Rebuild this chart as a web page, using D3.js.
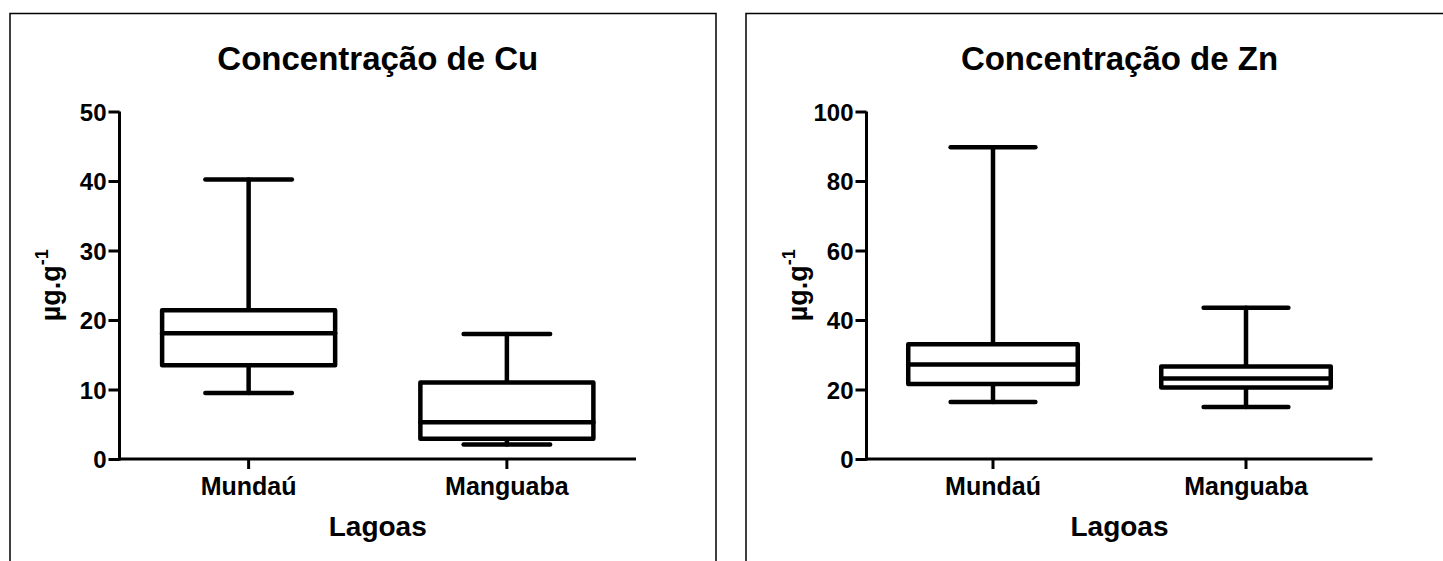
<!DOCTYPE html>
<html>
<head>
<meta charset="utf-8">
<script src="https://cdn.jsdelivr.net/npm/d3@7"></script>
<style>
  html, body { margin: 0; padding: 0; background: #fff; }
  svg { display: block; }
  text { font-family: "Liberation Sans", Arial, sans-serif; font-weight: bold; fill: #000; }
</style>
</head>
<body>
<script>
// data
const groups = ["Mundaú", "Manguaba"];

const cuMin = [9.5, 2.1];
const cuQ1 = [13.5, 2.9];
const cuMedian = [18.1, 5.3];
const cuQ3 = [21.4, 11.0];
const cuMax = [40.2, 18.0];
const cuTicks = [0, 10, 20, 30, 40, 50];

const znMin = [16.4, 15.0];
const znQ1 = [21.6, 20.6];
const znMedian = [27.2, 23.2];
const znQ3 = [33.0, 26.6];
const znMax = [89.7, 43.5];
const znTicks = [0, 20, 40, 60, 80, 100];

// layout
const width = 1443;
const height = 561;
const plotTop = 111.5;
const plotBottom = 459;

const svg = d3.select("body").append("svg")
  .attr("width", width)
  .attr("height", height);

function drawPanel(opt) {
  const g = svg.append("g");

  // frame
  g.append("rect")
    .attr("x", opt.frame[0])
    .attr("y", 13.5)
    .attr("width", opt.frame[1] - opt.frame[0])
    .attr("height", 600)
    .attr("fill", "none")
    .attr("stroke", "#000")
    .attr("stroke-width", 1.5);

  const x = d3.scaleBand().domain(groups).range([opt.x0, opt.x1]);
  const y = d3.scaleLinear().domain([0, opt.ticks[opt.ticks.length - 1]]).range([plotBottom, plotTop]);

  const rows = groups.map((k, i) => ({
    name: k, min: opt.min[i], q1: opt.q1[i], med: opt.med[i], q3: opt.q3[i], max: opt.max[i]
  }));

  const boxW = x.bandwidth() * 0.67;
  const capW = boxW / 2;

  // y axis
  const yAxis = g.append("g")
    .attr("transform", `translate(${opt.x0},0)`)
    .call(d3.axisLeft(y).tickValues(opt.ticks).tickSize(11).tickPadding(2).tickSizeOuter(0));
  // x axis
  const xAxis = g.append("g")
    .attr("transform", `translate(0,${plotBottom})`)
    .call(d3.axisBottom(x).tickSize(10).tickPadding(8).tickSizeOuter(0));

  [yAxis, xAxis].forEach(a => {
    a.attr("font-size", null).attr("font-family", null);
    a.select(".domain").attr("stroke-width", 3);
    a.selectAll(".tick line").attr("stroke-width", 3);
    a.selectAll("text").attr("fill", "#000");
  });
  yAxis.selectAll("text").style("font-size", "24px").attr("dy", "0.36em");
  xAxis.selectAll("text").style("font-size", "25px").attr("dy", "0.72em");
  yAxis.select(".domain").attr("d", `M0,${plotTop}V${plotBottom + 1.5}`);
  xAxis.select(".domain").attr("d", `M${opt.x0 - 1.5},0H${opt.x1}`);

  // boxes
  const box = g.selectAll(".box").data(rows).enter().append("g")
    .attr("class", "box")
    .attr("fill", "none")
    .attr("stroke", "#000")
    .attr("stroke-width", 4.5)
    .attr("stroke-linecap", "round")
    .attr("stroke-linejoin", "round");

  const cx = d => x(d.name) + x.bandwidth() / 2;

  box.append("line")
    .attr("x1", cx).attr("x2", cx)
    .attr("y1", d => y(d.max)).attr("y2", d => y(d.q3));
  box.append("line")
    .attr("x1", cx).attr("x2", cx)
    .attr("y1", d => y(d.q1)).attr("y2", d => y(d.min));
  box.append("line")
    .attr("x1", d => cx(d) - capW / 2).attr("x2", d => cx(d) + capW / 2)
    .attr("y1", d => y(d.max)).attr("y2", d => y(d.max));
  box.append("line")
    .attr("x1", d => cx(d) - capW / 2).attr("x2", d => cx(d) + capW / 2)
    .attr("y1", d => y(d.min)).attr("y2", d => y(d.min));
  box.append("rect")
    .attr("x", d => cx(d) - boxW / 2)
    .attr("width", boxW)
    .attr("y", d => y(d.q3))
    .attr("height", d => y(d.q1) - y(d.q3))
    .attr("fill", "#fff");
  box.append("line")
    .attr("x1", d => cx(d) - boxW / 2).attr("x2", d => cx(d) + boxW / 2)
    .attr("y1", d => y(d.med)).attr("y2", d => y(d.med));

  const midX = (opt.x0 + opt.x1) / 2;

  // title
  g.append("text")
    .attr("x", midX).attr("y", 70)
    .attr("text-anchor", "middle")
    .style("font-size", "33px")
    .text(opt.title);

  // x title
  g.append("text")
    .attr("x", midX).attr("y", 536)
    .attr("text-anchor", "middle")
    .style("font-size", "28px")
    .text("Lagoas");

  // y title
  const yt = g.append("text")
    .attr("transform", `translate(${opt.x0 - 60},${(plotTop + plotBottom) / 2}) rotate(-90)`)
    .attr("text-anchor", "middle")
    .style("font-size", "27px");
  yt.append("tspan").text("µg.g");
  yt.append("tspan").style("font-size", "18px").attr("dy", -12).text("-1");
}

drawPanel({
  title: "Concentração de Cu",
  frame: [10, 716],
  x0: 119.5, x1: 636,
  ticks: cuTicks,
  min: cuMin, q1: cuQ1, med: cuMedian, q3: cuQ3, max: cuMax
});

drawPanel({
  title: "Concentração de Zn",
  frame: [746, 1460],
  x0: 866.5, x1: 1372.5,
  ticks: znTicks,
  min: znMin, q1: znQ1, med: znMedian, q3: znQ3, max: znMax
});
</script>
</body>
</html>
